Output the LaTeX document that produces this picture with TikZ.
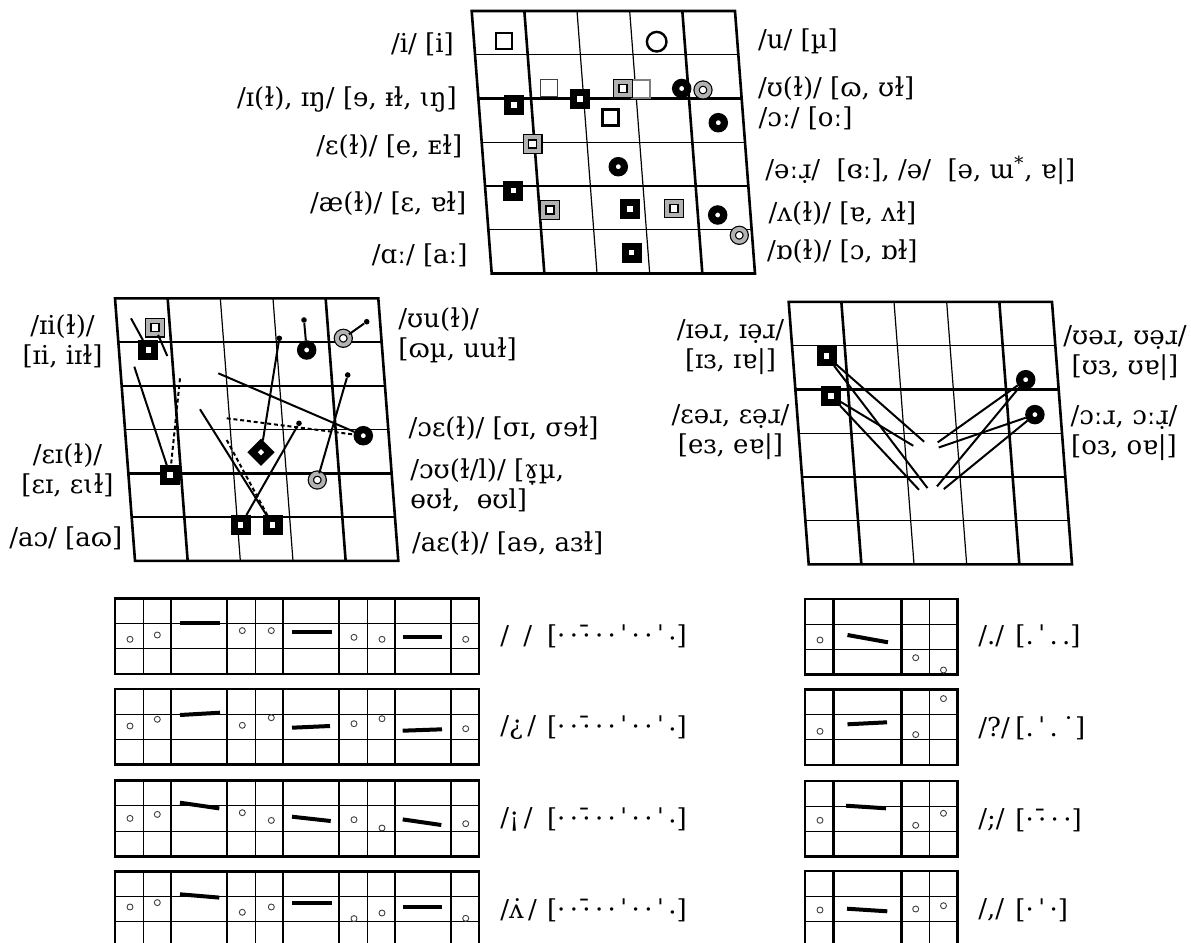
\documentclass[tikz,border=0pt]{standalone}
\usepackage{fontspec}
\setmainfont{DejaVu Serif}

\tikzset{
  chart thick/.style={line width=1.3pt},
  chart thin/.style={line width=0.6pt},
  box thick/.style={line width=1.3pt},
  box thin/.style={line width=0.5pt},
  opensq/.style={rectangle, draw, line width=1.4pt, fill=white, minimum size=8pt},
  faintsq/.style={rectangle, draw=black!75, line width=0.6pt, fill=white, minimum size=8.8pt},
  blksq/.style={rectangle, draw, line width=3.6pt, fill=white, minimum size=6.3pt},
  grsq/.style={rectangle, draw, line width=0.6pt, double=black!30, double distance=2pt, fill=white, minimum size=6.6pt},
  opencirc/.style={circle, draw, line width=1.2pt, fill=white, minimum size=9.8pt},
  blkdot/.style={circle, draw, line width=3.6pt, fill=white, minimum size=6.1pt},
  grdot/.style={circle, draw, line width=0.6pt, double=black!30, double distance=2pt, fill=white, minimum size=6.4pt},
  enddot/.style={circle, fill, minimum size=2.8pt},
  glide/.style={line width=1pt},
  dotglide/.style={line width=1pt, dash pattern=on 2pt off 1.4pt},
  tonedot/.style={circle, draw=black!75, line width=0.45pt, fill=white, minimum size=3pt},
  tonebar/.style={line width=2pt},
}

% skewed vowel grid, #1,#2 = top left corner
\newcommand{\vowelgrid}[2]{%
  \begin{scope}[shift={(#1,#2)}, x={(26.33pt,0pt)}, y={(1.667pt,-21.875pt)}]
    \foreach \u in {2,3} \draw[chart thin] (\u,0) -- (\u,6);
    \foreach \v in {1,3,5} \draw[chart thin] (0,\v) -- (5,\v);
    \foreach \u in {1,4} \draw[chart thick] (\u,0) -- (\u,6);
    \foreach \v in {2,4} \draw[chart thick] (0,\v) -- (5,\v);
    \draw[chart thick] (0,0) -- (5,0) -- (5,6) -- (0,6) -- cycle;
  \end{scope}}

% pitch boxes
\newcommand{\tonegridlong}[2]{%
  \begin{scope}[shift={(#1,#2)}]
    \foreach \x in {28,140,252} \draw[box thin] (\x,0) -- (\x,75.5);
    \foreach \y in {25,50.5} \draw[box thin] (0,\y) -- (364,\y);
    \foreach \x in {56,112,168,224,280,336} \draw[box thick] (\x,0) -- (\x,75.5);
    \draw[box thick] (0,0) rectangle (364,75.5);
  \end{scope}}
\newcommand{\tonegridshort}[2]{%
  \begin{scope}[shift={(#1,#2)}]
    \draw[box thin] (124.7,0) -- (124.7,75.5);
    \foreach \y in {25,50.5} \draw[box thin] (0,\y) -- (152.7,\y);
    \foreach \x in {28.3,96.7} \draw[box thick] (\x,0) -- (\x,75.5);
    \draw[box thick] (0,0) rectangle (152.7,75.5);
  \end{scope}}

\begin{document}
\begin{tikzpicture}[x=0.5pt, y=-0.5pt, every node/.style={inner sep=0pt},
    font=\fontsize{13}{15}\selectfont]
    \useasboundingbox (0,0) rectangle (1191,943);
    \clip (0,0) rectangle (1191,943);

    % monophthongs
    \vowelgrid{471.7}{11}
    \node[faintsq] (Ia) at (549,88) {};
    \node[faintsq, draw=black!50, line width=0.9pt] (Ib) at (641,89) {};
    \node[opensq] (i) at (504,41) {};
    \node[opencirc] (u) at (656.7,41.7) {};
    \node[blksq] (Ic) at (514,105) {};
    \node[blksq] (Id) at (580,99) {};
    \node[grsq] (Ie) at (623,88.5) {};
    \node[blkdot] (Ua) at (681.7,88.5) {};
    \node[grdot] (Ub) at (703,90) {};
    \node[opensq] (Oa) at (610.7,117.3) {};
    \node[blkdot] (Ob) at (718.3,122.7) {};
    \node[grsq] (E) at (532.7,144) {};
    \node[blkdot] (schwa) at (618.3,166.7) {};
    \node[blksq] (ae) at (513.3,190.7) {};
    \node[grsq] (aeL) at (550,210) {};
    \node[blksq] (V) at (630,209) {};
    \node[grsq] (VL) at (674,208.3) {};
    \node[blkdot] (Qa) at (717.7,215) {};
    \node[grdot] (Qb) at (739.3,235.3) {};
    \node[blksq] (A) at (631.7,252.7) {};

    \node[anchor=east] (l-i) at (454.2,44) {/i/ [i]};
    \node[anchor=east] (l-I) at (457.3,100) {/ɪ(ɫ), ɪŋ/ [ɘ, ᵻɫ, ɩŋ]};
    \node[anchor=east] (l-E) at (462.7,146.7) {/ɛ(ɫ)/ [e, ᴇɫ]};
    \node[anchor=east] (l-ae) at (466.7,203.3) {/æ(ɫ)/ [ɛ, ɐɫ]};
    \node[anchor=east] (l-A) at (468,255) {/ɑː/ [aː]};
    \node[anchor=west] (l-u) at (757.7,41.7) {/u/ [µ]};
    \node[anchor=west] (l-U) at (757.7,88.3) {/ʊ(ɫ)/ [ɷ, ʊɫ]};
    \node[anchor=west] (l-O) at (758.3,118.3) {/ɔː/ [oː]};
    \node[anchor=west] (l-schwa) at (765,170) {/əːɹ̣/\ \ [ɞː], /ə/\ \ [ə, ɯ\textsuperscript{*}, ɐ|]};
    \node[anchor=west] (l-V) at (768.3,213.3) {/ʌ(ɫ)/ [ɐ, ʌɫ]};
    \node[anchor=west] (l-Q) at (766.7,251.7) {/ɒ(ɫ)/ [ɔ, ɒɫ]};

    % closing diphthongs
    \vowelgrid{115}{298.3}
    \node[grsq] (ii2) at (155,327.7) {};
    \node[blksq] (ii1) at (148.3,350) {};
    \node[blkdot] (uu1) at (306.7,350) {};
    \node[grdot] (uu2) at (343.3,338.3) {};
    \node[blkdot] (oe) at (363.3,435.7) {};
    \node[blksq, rotate=45, minimum size=6pt] (ou1) at (261,452.3) {};
    \node[grdot] (ou2) at (317.3,480) {};
    \node[blksq] (ei) at (170,475) {};
    \node[blksq] (ae1) at (240.7,525) {};
    \node[blksq] (ae2) at (272.7,525) {};
    \node[enddot] (uu1e) at (304,320) {};
    \node[enddot] (uu2e) at (366.7,321.7) {};
    \node[enddot] (ou1e) at (279.3,338.3) {};
    \node[enddot] (ou2e) at (347.7,375) {};
    \node[enddot] (ae1e) at (299,423.3) {};
    \coordinate (ii1e) at (131,318.3);
    \coordinate (ii2e) at (167.3,356);
    \coordinate (ei1e) at (134.3,366.7);
    \coordinate (ei2e) at (180,378.3);
    \coordinate (oe1e) at (218.3,373.3);
    \coordinate (oe2e) at (226.7,418.3);
    \coordinate (ae2e) at (200,409.3);
    \coordinate (ae3e) at (226.7,440);

    \draw[glide] (ii1) -- (ii1e);
    \draw[glide] (ii2) -- (ii2e);
    \draw[glide] (ei1e) -- (ei);
    \draw[dotglide] (ei2e) -- (ei);
    \draw[glide] (uu1) -- (uu1e);
    \draw[glide] (uu2) -- (uu2e);
    \draw[glide] (oe1e) -- (oe);
    \draw[dotglide] (oe2e) -- (oe);
    \draw[glide] (ou1) -- (ou1e);
    \draw[glide] (ou2) -- (ou2e);
    \draw[glide] (ae1) -- (ae1e);
    \draw[glide] (ae2) -- (ae2e);
    \draw[dotglide] (ae3e) -- (ae2);

    \node[align=center] (l-ii) at (62.5,341.7) {/ɪi(ɫ)/\\{}[ɪi, iɪɫ]};
    \node[align=center] (l-ei) at (67.5,470) {/ɛɪ(ɫ)/\\{}[ɛɪ, ɛɩɫ]};
    \node (l-ao) at (65.8,538.3) {/aɔ/ [aɷ]};
    \node[anchor=west, align=left] (l-uu) at (398,335) {/ʊu(ɫ)/\\{}[ɷµ, uuɫ]};
    \node[anchor=west] (l-oe) at (408.3,428.3) {/ɔɛ(ɫ)/ [σɪ, σɘɫ]};
    \node[anchor=west, align=left] (l-ou) at (410,485) {/ɔʊ(ɫ/l)/ [ɤ̞µ,\\{}ɵʊɫ,\ \ ɵʊl]};
    \node[anchor=west] (l-ae2) at (411.7,543.3) {/aɛ(ɫ)/ [aɘ, aɜɫ]};

    % centring diphthongs
    \vowelgrid{788.7}{301.9}
    \node[blksq] (ir) at (826.6,356) {};
    \node[blksq] (er) at (831,396) {};
    \node[blkdot] (ur) at (1025.7,379.7) {};
    \node[blkdot] (or) at (1034.9,414.6) {};
    \coordinate (ir1) at (924.1,441.7);
    \coordinate (ir2) at (927.5,488.1);
    \coordinate (er1) at (913.3,445.8);
    \coordinate (er2) at (919,489.8);
    \coordinate (ur1) at (937.7,442.4);
    \coordinate (ur2) at (937,486.4);
    \coordinate (or1) at (938.7,447.5);
    \coordinate (or2) at (943.8,489.1);
    \draw[glide] (ir) -- (ir1);
    \draw[glide] (ir) -- (ir2);
    \draw[glide] (er) -- (er1);
    \draw[glide] (er) -- (er2);
    \draw[glide] (ur) -- (ur1);
    \draw[glide] (ur) -- (ur2);
    \draw[glide] (or) -- (or1);
    \draw[glide] (or) -- (or2);

    \node[align=center] (l-ir) at (730.5,347.5) {/ɪəɹ, ɪə̣ɹ/\\{}[ɪɜ, ɪɐ|]};
    \node[align=center] (l-er) at (730.5,432.3) {/ɛəɹ, ɛə̣ɹ/\\{}[eɜ, eɐ|]};
    \node[align=center] (l-ur) at (1125,352.7) {/ʊəɹ, ʊə̣ɹ/\\{}[ʊɜ, ʊɐ|]};
    \node[align=center] (l-or) at (1124,433) {/ɔːɹ, ɔːɹ̣/\\{}[oɜ, oɐ|]};

    % pitch patterns, long
    \tonegridlong{115}{598.3}
    \begin{scope}[shift={(115,598.3)}]
      \foreach \x/\y [count=\i] in {15/41, 42.3/36.7, 127.3/32.3, 156.3/32.3, 239/39, 267/41, 350.7/41}
        \node[tonedot] (ta\i) at (\x,\y) {};
      \draw[tonebar] (65,25) -- (105,25);
      \draw[tonebar] (177,34) -- (216.7,34);
      \draw[tonebar] (287.7,38.3) -- (327,38.3);
    \end{scope}
    \tonegridlong{115}{689}
    \begin{scope}[shift={(115,689)}]
      \foreach \x/\y [count=\i] in {15/37, 42.3/30.3, 127.3/36.3, 156.3/28.7, 239/34.7, 267/29.7, 350.7/39.7}
        \node[tonedot] (tb\i) at (\x,\y) {};
      \draw[tonebar] (65,26) -- (105,23.7);
      \draw[tonebar] (177,38.7) -- (215,37);
      \draw[tonebar] (287.7,41.7) -- (327,40.3);
    \end{scope}
    \tonegridlong{115}{780.7}
    \begin{scope}[shift={(115,780.7)}]
      \foreach \x/\y [count=\i] in {15/37.7, 42.3/33.7, 127.3/32, 156.3/39.7, 239/39, 267/47.3, 350.7/43}
        \node[tonedot] (tc\i) at (\x,\y) {};
      \draw[tonebar] (65,22) -- (104.3,27.7);
      \draw[tonebar] (177,36) -- (215.7,40.3);
      \draw[tonebar] (287.7,38.7) -- (326.3,44.3);
    \end{scope}
    \tonegridlong{115}{871.3}
    \begin{scope}[shift={(115,871.3)}]
      \foreach \x/\y [count=\i] in {15/35.7, 42.3/31.3, 127.3/41, 156.3/35.7, 239/47.3, 267/41.7, 350.7/47}
        \node[tonedot] (td\i) at (\x,\y) {};
      \draw[tonebar] (65,23) -- (104.3,26.3);
      \draw[tonebar] (177,31.3) -- (216.7,31.3);
      \draw[tonebar] (287.7,35.3) -- (327,35.3);
    \end{scope}

    \node[anchor=west] (p1) at (500,636.3) {/\hspace{0.55em}/};
    \node[anchor=west] (q1) at (546.7,636.3) {[·\,·\,\={·}\,·\,·\,ˈ\,·\,·\,ˈ\,\raisebox{-1.5pt}{·}]};
    \node[anchor=west] (p2) at (500,727.5) {/¿\,/};
    \node[anchor=west] (q2) at (546.7,727.5) {[·\,·\,\={·}\,·\,·\,ˈ\,·\,·\,ˈ\,\raisebox{-1.5pt}{·}]};
    \node[anchor=west] (p3) at (500,819.5) {/¡\,/};
    \node[anchor=west] (q3) at (546.7,819.5) {[·\,·\,\={·}\,·\,·\,ˈ\,·\,·\,ˈ\,\raisebox{-1.5pt}{·}]};
    \node[anchor=west] (p4) at (500,910) {/ʌ̇\,/};
    \node[anchor=west] (q4) at (546.7,910) {[·\,·\,\={·}\,·\,·\,ˈ\,·\,·\,ˈ\,\raisebox{-1.5pt}{·}]};

    % pitch patterns, short
    \tonegridshort{805}{599}
    \begin{scope}[shift={(805,599)}]
      \foreach \x/\y [count=\i] in {15/41, 110.7/58.7, 138.5/71}
        \node[tonedot] (sa\i) at (\x,\y) {};
      \draw[tonebar] (42.5,36) -- (83,43.3);
    \end{scope}
    \tonegridshort{805}{689.3}
    \begin{scope}[shift={(805,689.3)}]
      \foreach \x/\y [count=\i] in {15/42, 110.7/45.3, 138.5/9.3}
        \node[tonedot] (sb\i) at (\x,\y) {};
      \draw[tonebar] (42.5,35) -- (82,33);
    \end{scope}
    \tonegridshort{805}{781}
    \begin{scope}[shift={(805,781)}]
      \foreach \x/\y [count=\i] in {15/39.3, 110.7/44.3, 138.5/32.3}
        \node[tonedot] (sc\i) at (\x,\y) {};
      \draw[tonebar] (41,24.7) -- (81,27.3);
    \end{scope}
    \tonegridshort{805}{871}
    \begin{scope}[shift={(805,871)}]
      \foreach \x/\y [count=\i] in {15/39, 110.7/38, 138.5/34.7}
        \node[tonedot] (sd\i) at (\x,\y) {};
      \draw[tonebar] (42,37.7) -- (82.3,40.3);
    \end{scope}

    \node[anchor=west] (r1) at (978,636.7) {/./};
    \node[anchor=west] (s1) at (1015,636.7) {[.\,ˈ\,.\,.]};
    \node[anchor=west] (r2) at (978,728.3) {/?/};
    \node[anchor=west] (s2) at (1015,728.3) {[.\,ˈ\,.\,˙]};
    \node[anchor=west] (r3) at (978,820) {/;/};
    \node[anchor=west] (s3) at (1015,820) {[·\,\={·}\,·\,·]};
    \node[anchor=west] (r4) at (978,910) {/,/};
    \node[anchor=west] (s4) at (1015,910) {[·\,ˈ\,·]};
\end{tikzpicture}
\end{document}
